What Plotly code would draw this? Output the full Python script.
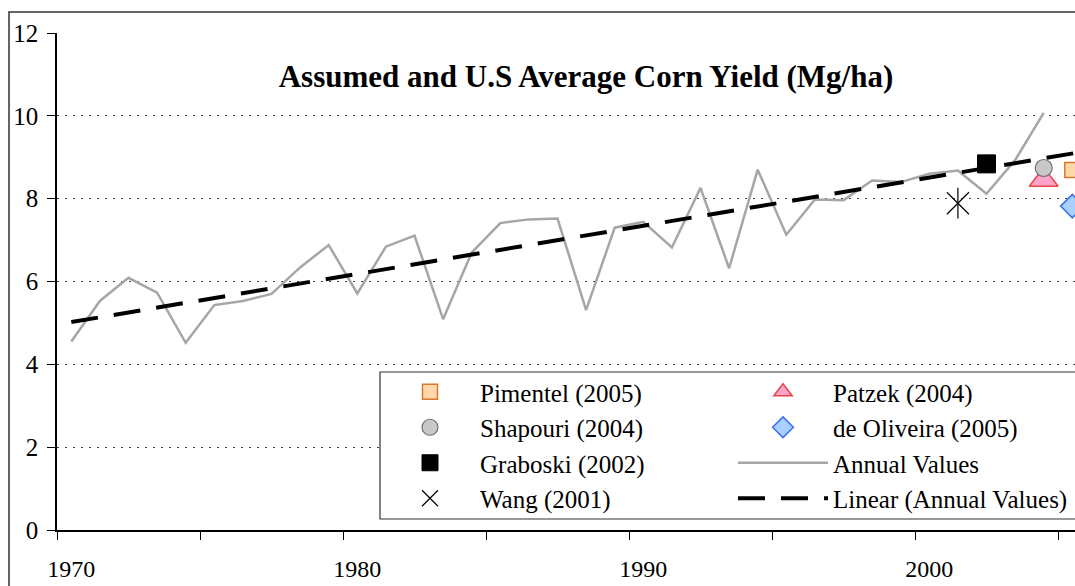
import plotly.graph_objects as go

# ---- data ----
years = list(range(1970, 2005))
annual_values = [4.55, 5.53, 6.09, 5.73, 4.52, 5.43, 5.53, 5.70, 6.34, 6.88,
                 5.71, 6.84, 7.11, 5.09, 6.70, 7.41, 7.50, 7.52, 5.31, 7.30,
                 7.44, 6.82, 8.26, 6.32, 8.70, 7.13, 7.98, 7.96, 8.44, 8.40,
                 8.60, 8.68, 8.12, 8.93, 10.07]
trend_years = [1970, 2005.6]
trend_values = [5.02, 9.16]

studies = ["Pimentel (2005)", "Shapouri (2004)", "Graboski (2002)", "Wang (2001)",
           "Patzek (2004)", "de Oliveira (2005)"]
study_years = [2005, 2004, 2002, 2001, 2004, 2005]
study_yields = [8.69, 8.74, 8.84, 7.89, 8.45, 7.82]

x_labels = [1970, 1980, 1990, 2000]
y_ticks = [0, 2, 4, 6, 8, 10, 12]

FONT = "Liberation Serif, Times New Roman, serif"

styles = {
    "Pimentel (2005)": dict(symbol="square", size=15, color="#FFD7A8", line=dict(color="#D9782F", width=1.5)),
    "Shapouri (2004)": dict(symbol="circle", size=17, color="#C8C8C8", line=dict(color="#707070", width=1.2)),
    "Graboski (2002)": dict(symbol="square", size=18, color="#000000", line=dict(color="#000000", width=1)),
    "Wang (2001)": dict(symbol="x-thin-open", size=22, color="#000000", line=dict(color="#000000", width=1.2)),
    "Patzek (2004)": dict(symbol="triangle-up", size=25, color="#FFA3C8", line=dict(color="#E8464A", width=1.5)),
    "de Oliveira (2005)": dict(symbol="diamond", size=18, color="#A9D0FF", line=dict(color="#3A6FF0", width=1.5)),
}
legend_of = {"Pimentel (2005)": ("legend", 1), "Shapouri (2004)": ("legend", 2),
             "Graboski (2002)": ("legend", 3), "Wang (2001)": ("legend", 4),
             "Patzek (2004)": ("legend2", 5), "de Oliveira (2005)": ("legend2", 6)}

fig = go.Figure()

# draw order: triangle & diamond first so circle sits on top of triangle
order = ["Patzek (2004)", "de Oliveira (2005)", "Pimentel (2005)", "Shapouri (2004)",
         "Graboski (2002)", "Wang (2001)"]
for name in order:
    i = studies.index(name)
    lg, rank = legend_of[name]
    fig.add_trace(go.Scatter(
        x=[study_years[i]], y=[study_yields[i]], mode="markers", name=name,
        marker=styles[name], legend=lg, legendrank=rank, legendgroup=name,
        cliponaxis=False, hoverinfo="skip"))
    if name == "Wang (2001)":
        fig.add_trace(go.Scatter(
            x=[study_years[i]], y=[study_yields[i]], mode="markers", showlegend=False,
            marker=dict(symbol="line-ns-open", size=22, color="#000000",
                        line=dict(color="#000000", width=1.2)),
            legendgroup=name, cliponaxis=False, hoverinfo="skip"))

fig.add_trace(go.Scatter(
    x=years, y=annual_values, mode="lines", name="Annual Values",
    line=dict(color="#A6A6A6", width=2.5), legend="legend2", legendrank=7,
    legendgroup="annual", hoverinfo="skip"))
fig.add_trace(go.Scatter(
    x=trend_years, y=trend_values, mode="lines", name="Linear (Annual Values)",
    line=dict(color="#000000", width=4, dash="27px,16px"), legend="legend2", legendrank=8,
    legendgroup="linear", hoverinfo="skip"))

W, H = 1075, 586
L = 57
T = 33
B = H - 530
R = 0
pw = W - L - R
ph = H - T - B


def px(xp):
    return (xp - L) / pw


def py(yp):
    return (H - B - yp) / ph


legend_font = dict(family=FONT, size=25, color="#000000")
common_legend = dict(bgcolor="rgba(0,0,0,0)", borderwidth=0, font=legend_font,
                     itemwidth=90, tracegroupgap=0, yanchor="top", xanchor="left",
                     orientation="v", traceorder="grouped")

fig.update_layout(
    width=W, height=H,
    margin=dict(l=L, r=R, t=T, b=B, pad=0),
    paper_bgcolor="white", plot_bgcolor="white",
    font=dict(family=FONT, size=24, color="#000000"),
    title=dict(text="<b>Assumed and U.S Average Corn Yield (Mg/ha)</b>",
               font=dict(family=FONT, size=31, color="#000000"),
               x=586 / W, xanchor="center", xref="container",
               y=1 - 76 / H, yanchor="middle", yref="container"),
    showlegend=True,
    legend=dict(x=px(380), y=py(369), **common_legend),
    legend2=dict(x=px(733), y=py(369), **common_legend),
    xaxis=dict(range=[1969.5, 1969.5 + pw / 28.6], tickmode="array", tickvals=x_labels,
               ticktext=[str(v) for v in x_labels], ticks="", showgrid=False, zeroline=False,
               showline=True, linecolor="#000000", linewidth=1.5,
               tickfont=dict(family=FONT, size=24, color="#000000"),
               ticklabelstandoff=16,
               minor=dict(tickmode="linear", tick0=1969.5, dtick=5, ticks="outside",
                          ticklen=8, tickcolor="#000000", tickwidth=1.2, showgrid=False)),
    yaxis=dict(range=[0, 12], tickmode="array", tickvals=y_ticks, ticks="outside",
               ticklen=8, tickcolor="#000000", tickwidth=1.2, showline=True,
               linecolor="#000000", linewidth=1.5, zeroline=False,
               showgrid=True, gridcolor="#444444", gridwidth=1, griddash="2px,6px",
               tickfont=dict(family=FONT, size=25, color="#000000"),
               ticklabelstandoff=4),
    shapes=[
        dict(type="rect", xref="paper", yref="paper", x0=px(9), x1=1.2, y0=-0.3, y1=py(12),
             line=dict(color="#333333", width=1.5), fillcolor="rgba(0,0,0,0)", layer="below"),
        dict(type="rect", xref="paper", yref="paper", x0=px(380), x1=1.2, y0=py(519), y1=py(372),
             line=dict(color="#333333", width=1.2), fillcolor="white", layer="above"),
    ],
)

fig.write_html("out.html", config={"displayModeBar": False},
               post_script="document.body.style.margin='0';document.body.style.overflow='hidden';")
